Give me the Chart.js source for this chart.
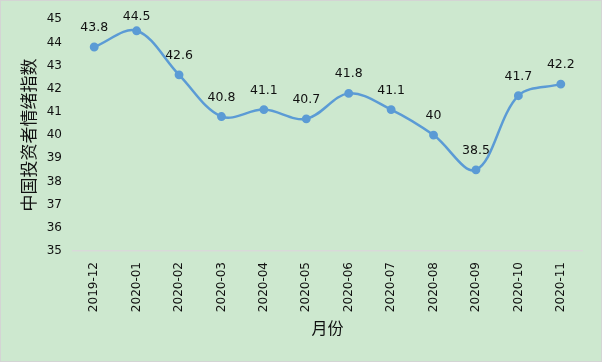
<!DOCTYPE html>
<html>
<head>
<meta charset="utf-8">
<script src="https://cdn.jsdelivr.net/npm/chart.js@4"></script>
<style>
  html, body { margin: 0; padding: 0; background: #fff; }
  #box { width: 602px; height: 362px; box-sizing: border-box; border: 1px solid #d4d4d4; background: #cde8cf; }
  #chart { display: block; }
</style>
</head>
<body>
<div id="box"><canvas id="chart" width="600" height="360"></canvas></div>
<script>
const months = ['2019-12', '2020-01', '2020-02', '2020-03', '2020-04', '2020-05',
                '2020-06', '2020-07', '2020-08', '2020-09', '2020-10', '2020-11']
const sentiment = [43.8, 44.5, 42.6, 40.8, 41.1, 40.7, 41.8, 41.1, 40, 38.5, 41.7, 42.2]
const yTitle = '中国投资者情绪指数'
const xTitle = '月份'

const font = "'DejaVu Sans', 'Noto Sans CJK SC', sans-serif"

// labels above each point, kept inside the top edge like the original
const pointLabels = {
    id: 'pointLabels',
    afterDatasetsDraw(chart) {
        const ctx = chart.ctx
        const meta = chart.getDatasetMeta(0)
        ctx.save()
        ctx.fillStyle = '#111'
        ctx.font = '12.5px ' + font
        ctx.textAlign = 'center'
        ctx.textBaseline = 'bottom'
        meta.data.forEach((pt, i) => {
            ctx.fillText(String(sentiment[i]), pt.x, Math.max(pt.y - 13, 22))
        })
        ctx.restore()
    }
}

new Chart(document.getElementById('chart').getContext('2d'), {
    type: 'line',
    data: {
        labels: months,
        datasets: [{
            data: sentiment,
            borderColor: '#5b9bd5',
            backgroundColor: '#5b9bd5',
            borderWidth: 2.5,
            pointRadius: 3.2,
            pointHoverRadius: 3.2,
            tension: 0.35
        }]
    },
    options: {
        responsive: false,
        animation: false,
        layout: { padding: { top: 14, right: 19, left: 15, bottom: 18 } },
        plugins: { legend: { display: false }, tooltip: { enabled: false } },
        scales: {
            x: {
                offset: true,
                afterFit: (s) => { s.height = 92 },
                grid: { display: false, drawTicks: false },
                border: { color: '#d9d9d9', width: 1.5 },
                ticks: { color: '#111', font: { family: font, size: 12 }, minRotation: 90, maxRotation: 90, padding: 11 },
                title: { display: true, text: xTitle, color: '#111', font: { family: font, size: 16 } }
            },
            y: {
                min: 35,
                max: 45,
                afterFit: (s) => { s.width = 57 },
                grid: { display: false, drawTicks: false },
                border: { display: false },
                ticks: { stepSize: 1, color: '#111', font: { family: font, size: 12 }, padding: 11 },
                title: { display: true, text: yTitle, color: '#111', font: { family: font, size: 17 } }
            }
        }
    },
    plugins: [pointLabels]
})
</script>
</body>
</html>
